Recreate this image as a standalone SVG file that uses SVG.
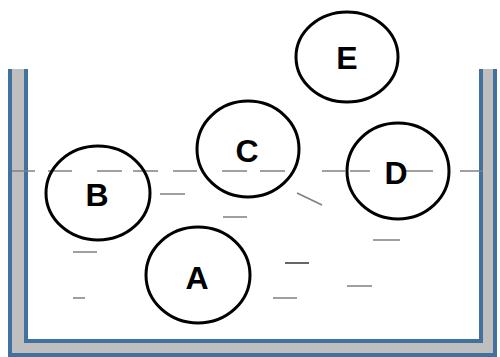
<svg xmlns="http://www.w3.org/2000/svg" width="500" height="357" viewBox="0 0 500 357">
  <style>
    .wall { fill: #bfbfbf; stroke: none; }
    .edge { fill: none; stroke: #41719c; stroke-width: 4; stroke-linejoin: miter; }
    .surface line { stroke: #808080; stroke-width: 1.5; }
    .bits line { stroke: #7f7f7f; stroke-width: 1.5; }
    .ball ellipse { fill: none; stroke: #000; stroke-width: 3; }
    .ball text { font-family: "Liberation Sans", Arial, sans-serif; font-weight: bold; font-size: 32px; text-anchor: middle; fill: #000; }
  </style>
  <rect width="500" height="357" fill="#fff"/>

  <!-- container walls -->
  <g id="container">
    <path class="wall" d="M10 69 V355 H495 V69 H481 V341 H26 V69 Z"/>
    <polyline class="edge" points="10,69 10,355 495,355 495,69"/>
    <polyline class="edge" points="26,69 26,341 481,341 481,69"/>
  </g>

  <!-- liquid surface -->
  <g class="surface">
    <line x1="12" y1="171" x2="35" y2="171"/>
    <line x1="48" y1="171" x2="72" y2="171"/>
    <line x1="97" y1="171" x2="122" y2="171"/>
    <line x1="133" y1="171" x2="158" y2="171"/>
    <line x1="173" y1="171" x2="197" y2="171"/>
    <line x1="222" y1="171" x2="247" y2="171"/>
    <line x1="260" y1="171" x2="285" y2="171"/>
    <line x1="322" y1="171" x2="345" y2="171"/>
    <line x1="350" y1="171" x2="370" y2="171"/>
    <line x1="405" y1="171" x2="433" y2="171"/>
    <line x1="460" y1="171" x2="483" y2="171"/>
  </g>

  <!-- marks in the liquid -->
  <g class="bits">
    <line x1="160" y1="194" x2="185" y2="194"/>
    <line x1="297" y1="193" x2="322" y2="205"/>
    <line x1="223" y1="217" x2="247" y2="217"/>
    <line x1="373" y1="240" x2="400" y2="240"/>
    <line x1="73" y1="252" x2="97" y2="252"/>
    <line x1="285" y1="263" x2="309" y2="263" style="stroke:#333"/>
    <line x1="347" y1="286" x2="372" y2="286"/>
    <line x1="73" y1="298" x2="85" y2="298"/>
    <line x1="273" y1="298" x2="297" y2="298"/>
  </g>

  <g id="ball-E" class="ball">
    <ellipse cx="347" cy="57" rx="51" ry="45"/>
    <text x="347" y="69">E</text>
  </g>
  <g id="ball-C" class="ball">
    <ellipse cx="248" cy="149" rx="51" ry="48"/>
    <text x="247" y="162">C</text>
  </g>
  <g id="ball-B" class="ball">
    <ellipse cx="98" cy="193" rx="52" ry="47"/>
    <text x="97" y="206">B</text>
  </g>
  <g id="ball-D" class="ball">
    <ellipse cx="398" cy="171" rx="51" ry="48"/>
    <text x="396" y="184">D</text>
  </g>
  <g id="ball-A" class="ball">
    <ellipse cx="198" cy="275" rx="52" ry="48"/>
    <text x="197" y="289">A</text>
  </g>
</svg>
